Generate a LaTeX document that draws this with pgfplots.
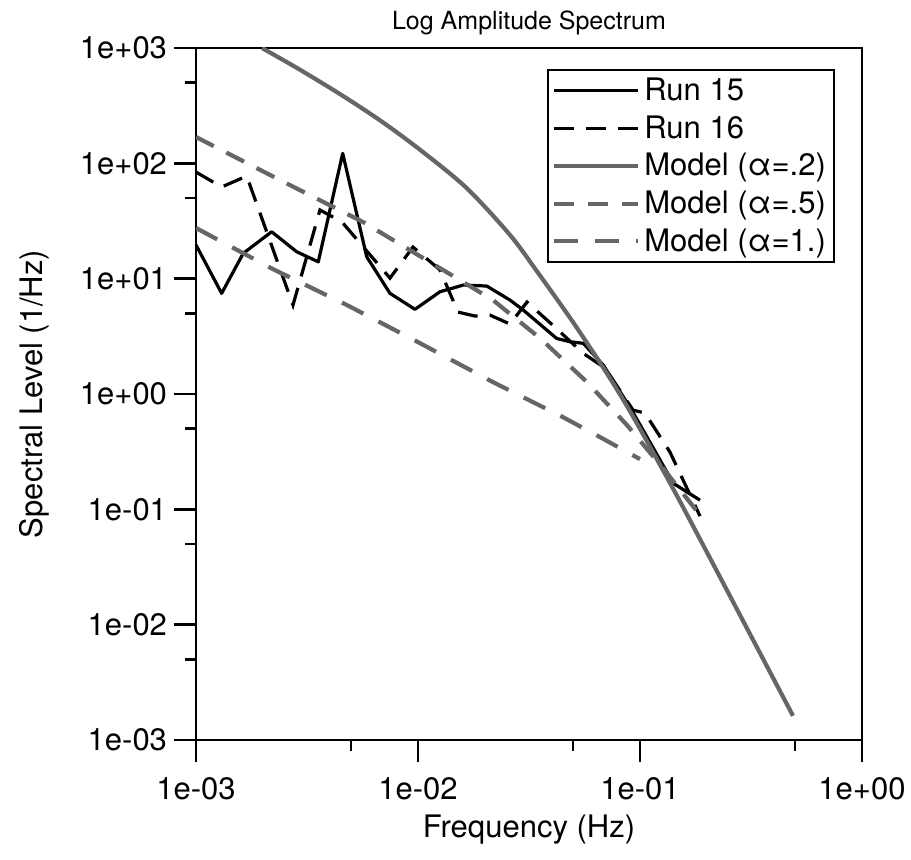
\documentclass[border=0pt]{standalone}
\usepackage{fontspec}
\setmainfont{TeX Gyre Heros}
\usepackage{pgfplots}
\pgfplotsset{compat=1.18}

\begin{document}
\begin{tikzpicture}
\useasboundingbox (-98pt,-60pt) rectangle (357.5pt,370pt);
\begin{axis}[
    at={(0,0)}, anchor=south west,
    scale only axis, width=333pt, height=346pt,
    xmode=log, ymode=log,
    xmin=1e-3, xmax=1, ymin=1e-3, ymax=1e3,
    xtick={1e-3,1e-2,1e-1,1},
    xticklabels={1e-03,1e-02,1e-01,1e+00},
    ytick={1e-3,1e-2,1e-1,1,1e1,1e2,1e3},
    yticklabels={1e-03,1e-02,1e-01,1e+00,1e+01,1e+02,1e+03},
    minor xtick={5e-3,5e-2,5e-1},
    minor ytick={5e-3,5e-2,5e-1,5,50,500},
    tick pos=left, tick align=outside,
    major tick length=11pt, minor tick length=5.5pt,
    every tick/.style={black, line width=1.3pt},
    xticklabel shift=4pt,
    axis line style={line width=1.4pt},
    font=\fontsize{15.5}{18}\selectfont,
    xlabel={Frequency (Hz)},
    xlabel style={at={(0.5,-0.1416)}, anchor=base},
    ylabel={Spectral Level (1/Hz)},
    ylabel style={at={(-0.2312,0.5)}, anchor=base},
    legend style={at={(1,1)}, anchor=north east, xshift=-13.5pt, yshift=-10.5pt,
        draw=black, line width=1.1pt, fill=white,
        font=\fontsize{15.5}{18}\selectfont,
        inner xsep=2pt, inner ysep=2pt, row sep=2pt, cells={anchor=west}},
    legend image code/.code={\draw[#1] (0pt,0pt) -- (42pt,0pt);},
]
% Run 15
\addplot[black, line width=1.6pt, line join=round] coordinates {
(0.001,19.6) (0.001305,7.46) (0.001633,16.6) (0.002193,25.5) (0.002842,17.1)
(0.003556,14.0) (0.004580,122) (0.005874,15.5) (0.007479,7.46) (0.009694,5.42)
(0.01256,7.70) (0.01600,8.80) (0.02040,8.63) (0.02597,6.52) (0.02980,5.34)
(0.04214,3.03) (0.04837,2.84) (0.05554,2.75) (0.06835,1.78) (0.09176,0.725)
(0.1413,0.168) (0.1864,0.120)};
\addlegendentry{Run 15}
% Run 16
\addplot[black, line width=1.6pt, dash pattern=on 10pt off 6pt] coordinates {
(0.001,84.0) (0.001305,62.3) (0.001692,77.6) (0.002735,5.90) (0.003619,39.4)
(0.004547,31.0) (0.007479,10.1) (0.009495,18.8) (0.01256,11.9) (0.01514,5.13)
(0.01806,4.74) (0.02111,4.83) (0.02597,4.04) (0.03097,6.27) (0.04183,3.73)
(0.05536,2.26) (0.06956,1.68) (0.09299,0.725) (0.1053,0.683) (0.1365,0.313)
(0.1864,0.0873)};
\addlegendentry{Run 16}
% Model alpha=.2
\addplot[black!60, line width=2.1pt, smooth] coordinates {
(0.001983,1000) (0.002940,648) (0.004596,383.5) (0.006957,226.3) (0.01053,125.3)
(0.01663,60.6) (0.02597,23.93) (0.03436,11.57) (0.04990,4.203) (0.07102,1.506)
(0.0930,0.639) (0.1408,0.1518) (0.2067,0.0378) (0.3130,0.008289) (0.4889,0.001622)};
\addlegendentry{Model (α=.2)}
% Model alpha=.5
\addplot[black!60, line width=2.1pt, dash pattern=on 10pt off 7pt] coordinates {
(0.001,169.1) (0.002390,71.6) (0.005655,31.0) (0.01296,11.9) (0.02177,6.52)
(0.03544,3.05) (0.05771,1.268) (0.08737,0.5375) (0.1269,0.2277) (0.1864,0.0891)};
\addlegendentry{Model (α=.5)}
% Model alpha=1
\addplot[black!60, line width=2.1pt, dash pattern=on 12pt off 8.5pt] coordinates {
(0.001,27.5) (0.002222,12.1) (0.004788,5.90) (0.01021,2.76) (0.02132,1.294)
(0.04498,0.630) (0.06604,0.423) (0.1,0.2725)};
\addlegendentry{Model (α=1.)}
\end{axis}
% title above the frame
\node[anchor=base, font=\fontsize{12.5}{15}\selectfont] at (166.5pt,355pt) {Log Amplitude Spectrum};
\end{tikzpicture}
\end{document}
